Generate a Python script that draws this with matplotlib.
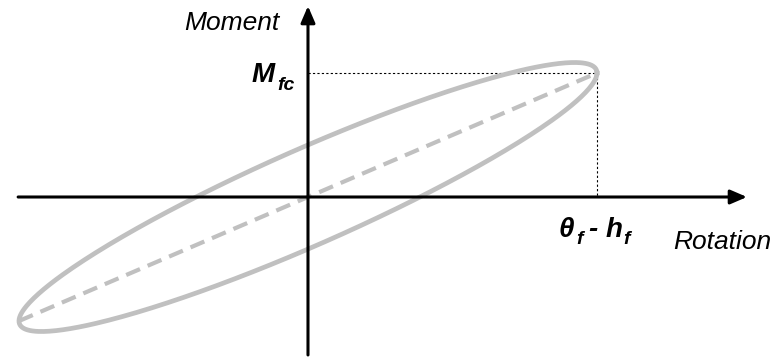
import numpy as np
import matplotlib.pyplot as plt

# hysteresis loop parameters (normalised units)
rotation_peak = 1.0      # theta_f - h_f
moment_peak = 1.0        # M_fc
moment_at_zero = 0.42    # moment where loop crosses the moment axis

# axis extents
x_axis = [-1.003, 1.519]
y_axis = [-1.274, 1.540]
xlims = [-1.0657, 1.6471]
ylims = [-1.3145, 1.5887]

plt.rcParams['font.family'] = ['Liberation Sans', 'DejaVu Sans']

fig = plt.figure(figsize=(7.84, 3.6), dpi=100)
ax = fig.add_axes([0, 0, 1, 1])
ax.set_xlim(xlims)
ax.set_ylim(ylims)
ax.axis('off')

t = np.linspace(0, 2 * np.pi, 400)
rot = rotation_peak * np.cos(t)
mom = moment_peak * np.cos(t) + moment_at_zero * np.sin(t)
ax.plot(rot, mom, color='#c0c0c0', lw=3.4, zorder=2)

ax.plot([-rotation_peak, rotation_peak], [-moment_peak, moment_peak],
        color='#c0c0c0', lw=3.0, dashes=(3.6, 2.0), zorder=2)

# thin dotted guides
ax.plot([0, rotation_peak], [moment_peak, moment_peak], color='black',
        lw=0.8, dashes=(2, 2), zorder=1)
ax.plot([rotation_peak, rotation_peak], [moment_peak, 0], color='black',
        lw=0.8, dashes=(2, 2), zorder=1)

arrow = dict(arrowstyle='-|>,head_length=1.0,head_width=0.43', color='black',
             lw=2.2, shrinkA=0, shrinkB=0, mutation_scale=10)
ax.annotate('', xy=(x_axis[1], 0), xytext=(x_axis[0], 0), arrowprops=arrow, zorder=3)
ax.annotate('', xy=(0, y_axis[1]), xytext=(0, y_axis[0]), arrowprops=arrow, zorder=3)

ax.text(-0.263, 1.403, 'Moment', fontsize=19, style='italic',
        ha='center', va='center')
ax.text(1.433, -0.363, 'Rotation', fontsize=19, style='italic',
        ha='center', va='center')

bi = dict(style='italic', weight='bold', textcoords='offset pixels',
          va='baseline', ha='left')
ax.annotate('M', xy=(0, moment_peak), xytext=(-56, -9), fontsize=20, **bi)
ax.annotate('fc', xy=(0, moment_peak), xytext=(-31, -17), fontsize=14, **bi)

ax.annotate('\u03b8', xy=(rotation_peak, 0), xytext=(-38, -40), fontsize=20, **bi)
ax.annotate('f', xy=(rotation_peak, 0), xytext=(-21, -47), fontsize=14, **bi)
ax.annotate('- h', xy=(rotation_peak, 0), xytext=(-8, -40), fontsize=20, **bi)
ax.annotate('f', xy=(rotation_peak, 0), xytext=(26, -47), fontsize=14, **bi)

fig.savefig('out.png', dpi=100)
